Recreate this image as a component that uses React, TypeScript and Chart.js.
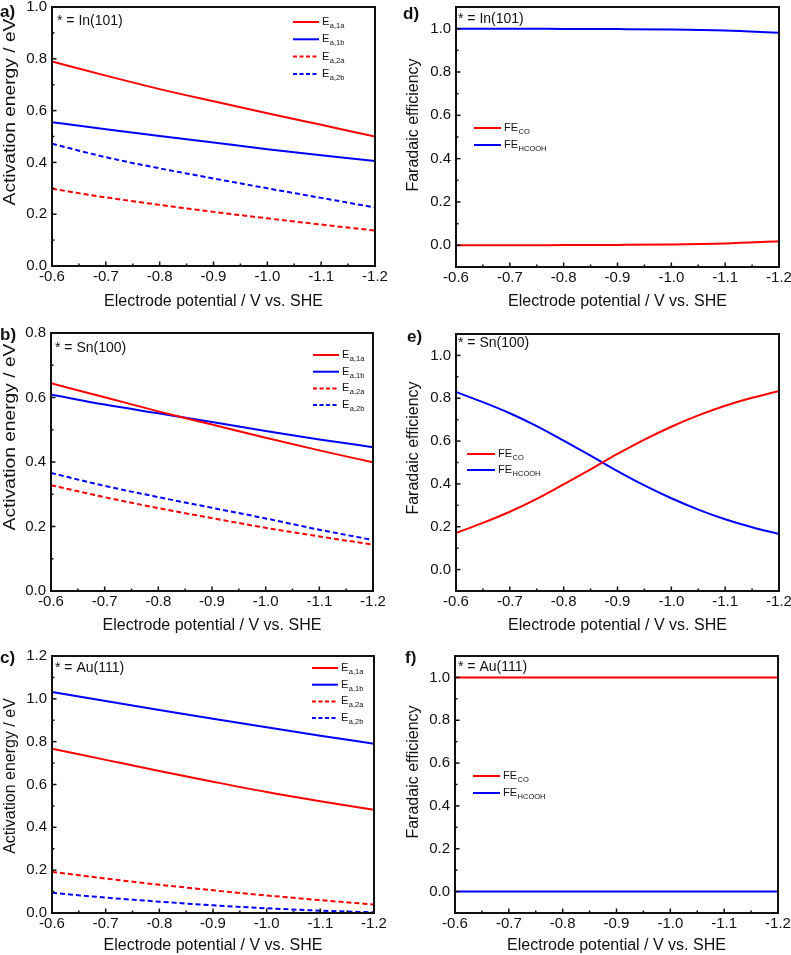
import React, { useEffect, useRef } from "react";
import { Chart, registerables } from "chart.js";

Chart.register(...registerables);

// ---------------- data ----------------
const potentials = [-0.6, -0.7, -0.8, -0.9, -1.0, -1.1, -1.2];
const potentialsFine = [-0.6, -0.65, -0.7, -0.75, -0.8, -0.85, -0.9, -0.95, -1.0, -1.05, -1.1, -1.15, -1.2];
const xTicks = [-0.6, -0.7, -0.8, -0.9, -1.0, -1.1, -1.2];
const eaTicksA = [0, 0.2, 0.4, 0.6, 0.8, 1.0];
const eaTicksB = [0, 0.2, 0.4, 0.6, 0.8];
const eaTicksC = [0, 0.2, 0.4, 0.6, 0.8, 1.0, 1.2];
const feTicks = [0, 0.2, 0.4, 0.6, 0.8, 1.0];

const eaSubs = ["a,1a", "a,1b", "a,2a", "a,2b"];
const feSubs = ["CO", "HCOOH"];

// a) In(101)
const inE1a = [0.790, 0.735, 0.683, 0.636, 0.590, 0.545, 0.500];
const inE1b = [0.555, 0.528, 0.502, 0.477, 0.451, 0.428, 0.405];
const inE2a = [0.298, 0.265, 0.236, 0.209, 0.184, 0.160, 0.137];
const inE2b = [0.472, 0.420, 0.377, 0.338, 0.300, 0.263, 0.226];
// b) Sn(100)
const snE1a = [0.644, 0.601, 0.557, 0.516, 0.475, 0.436, 0.399];
const snE1b = [0.609, 0.578, 0.551, 0.524, 0.496, 0.470, 0.446];
const snE2a = [0.328, 0.291, 0.257, 0.226, 0.196, 0.169, 0.144];
const snE2b = [0.366, 0.326, 0.291, 0.258, 0.225, 0.190, 0.158];
// c) Au(111)
const auE1a = [0.767, 0.715, 0.663, 0.613, 0.565, 0.522, 0.482];
const auE1b = [1.032, 0.990, 0.948, 0.907, 0.867, 0.828, 0.790];
const auE2a = [0.192, 0.161, 0.132, 0.106, 0.082, 0.060, 0.040];
const auE2b = [0.094, 0.072, 0.053, 0.036, 0.022, 0.011, 0.003];
// d) In(101) FE
const inFeCO = [0.000, 0.000, 0.001, 0.002, 0.004, 0.009, 0.019];
const inFeHCOOH = [1.000, 1.000, 0.999, 0.998, 0.996, 0.991, 0.981];
// e) Sn(100) FE
const snFeCO = [0.171, 0.218, 0.270, 0.330, 0.398, 0.468, 0.540, 0.607, 0.667, 0.720, 0.765, 0.802, 0.834];
const snFeHCOOH = [0.829, 0.782, 0.730, 0.670, 0.602, 0.532, 0.460, 0.393, 0.333, 0.280, 0.235, 0.198, 0.166];
// f) Au(111) FE
const auFeCO = [1, 1, 1, 1, 1, 1, 1];
const auFeHCOOH = [0, 0, 0, 0, 0, 0, 0];

// ---------------- styles ----------------
const RED = "#ff0000";
const BLUE = "#0000ff";
const INK = "#111111";
const FONT = "'Liberation Sans', Arial, Helvetica, sans-serif";
const X_TITLE = "Electrode potential / V vs. SHE";

type Series = { xs: number[]; ys: number[]; color: string; dashed: boolean; main: string; sub: string };
type Panel = {
  key: string;
  letter: string;
  note: string;
  canvas: { x: number; y: number; w: number; h: number };
  area: { l: number; t: number; r: number; b: number };
  xH: number;
  yMin: number;
  yMax: number;
  yTicks: number[];
  yTitle: string;
  yTitlePos: [number, number];
  yTitleStretch: number;
  letterPos: [number, number];
  notePos: [number, number];
  legend: { x: number; y: number; len: number; dy: number };
  series: Series[];
};

const eaSeries = (s1a: number[], s1b: number[], s2a: number[], s2b: number[]): Series[] => [
  { xs: potentials, ys: s1a, color: RED, dashed: false, main: "E", sub: eaSubs[0] },
  { xs: potentials, ys: s1b, color: BLUE, dashed: false, main: "E", sub: eaSubs[1] },
  { xs: potentials, ys: s2a, color: RED, dashed: true, main: "E", sub: eaSubs[2] },
  { xs: potentials, ys: s2b, color: BLUE, dashed: true, main: "E", sub: eaSubs[3] },
];
const feSeries = (xs: number[], co: number[], hc: number[]): Series[] => [
  { xs, ys: co, color: RED, dashed: false, main: "FE", sub: feSubs[0] },
  { xs, ys: hc, color: BLUE, dashed: false, main: "FE", sub: feSubs[1] },
];

const panels: Panel[] = [
  {
    key: "a", letter: "a)", note: "* = In(101)",
    canvas: { x: 0, y: -10, w: 395, h: 325 }, area: { l: 52, t: 7, r: 375, b: 266 }, xH: 45,
    yMin: 0, yMax: 1.0, yTicks: eaTicksA, yTitle: "Activation energy / eV", yTitlePos: [11, 112], yTitleStretch: 1.2,
    letterPos: [0, 12], notePos: [57, 21], legend: { x: 293, y: 22, len: 26, dy: 17.3 },
    series: eaSeries(inE1a, inE1b, inE2a, inE2b),
  },
  {
    key: "d", letter: "d)", note: "* = In(101)",
    canvas: { x: 395, y: -10, w: 420, h: 325 }, area: { l: 456, t: 7, r: 779, b: 267 }, xH: 44,
    yMin: -0.1, yMax: 1.1, yTicks: feTicks, yTitle: "Faradaic efficiency", yTitlePos: [414, 125], yTitleStretch: 1.0,
    letterPos: [403, 14], notePos: [458, 19], legend: { x: 474, y: 128, len: 27, dy: 17 },
    series: feSeries(potentials, inFeCO, inFeHCOOH),
  },
  {
    key: "b", letter: "b)", note: "* = Sn(100)",
    canvas: { x: 0, y: 300, w: 395, h: 335 }, area: { l: 51, t: 333, r: 373, b: 591 }, xH: 44,
    yMin: 0, yMax: 0.8, yTicks: eaTicksB, yTitle: "Activation energy / eV", yTitlePos: [11, 437], yTitleStretch: 1.2,
    letterPos: [0, 335], notePos: [55, 348], legend: { x: 313, y: 355, len: 26, dy: 16.7 },
    series: eaSeries(snE1a, snE1b, snE2a, snE2b),
  },
  {
    key: "e", letter: "e)", note: "* = Sn(100)",
    canvas: { x: 395, y: 300, w: 420, h: 335 }, area: { l: 456, t: 334, r: 779, b: 591 }, xH: 44,
    yMin: -0.1, yMax: 1.1, yTicks: feTicks, yTitle: "Faradaic efficiency", yTitlePos: [414, 448], yTitleStretch: 1.0,
    letterPos: [407, 337], notePos: [458, 343], legend: { x: 467, y: 454, len: 28, dy: 16 },
    series: feSeries(potentialsFine, snFeCO, snFeHCOOH),
  },
  {
    key: "c", letter: "c)", note: "* = Au(111)",
    canvas: { x: 0, y: 625, w: 395, h: 330 }, area: { l: 52, t: 656, r: 374, b: 913 }, xH: 42,
    yMin: 0, yMax: 1.2, yTicks: eaTicksC, yTitle: "Activation energy / eV", yTitlePos: [11, 776], yTitleStretch: 1.0,
    letterPos: [0, 658], notePos: [55, 668], legend: { x: 312, y: 668, len: 26, dy: 16.7 },
    series: eaSeries(auE1a, auE1b, auE2a, auE2b),
  },
  {
    key: "f", letter: "f)", note: "* = Au(111)",
    canvas: { x: 395, y: 625, w: 420, h: 330 }, area: { l: 455, t: 656, r: 778, b: 913 }, xH: 42,
    yMin: -0.1, yMax: 1.1, yTicks: feTicks, yTitle: "Faradaic efficiency", yTitlePos: [414, 772], yTitleStretch: 1.0,
    letterPos: [405, 658], notePos: [458, 667], legend: { x: 473, y: 776, len: 27, dy: 17 },
    series: feSeries(potentials, auFeCO, auFeHCOOH),
  },
];

const mids = (arr: number[]) => arr.slice(1).map((v, i) => (v + arr[i]) / 2);

function makeDecor(p: Panel) {
  const ox = p.canvas.x;
  const oy = p.canvas.y;
  return {
    id: "decor_" + p.key,
    afterDatasetsDraw(chart: any) {
      const ctx = chart.ctx as CanvasRenderingContext2D;
      const { left, right, top, bottom } = chart.chartArea;
      const xs = chart.scales.x;
      const ys = chart.scales.y;
      ctx.save();
      ctx.strokeStyle = INK;
      ctx.setLineDash([]);
      const tick = (x1: number, y1: number, x2: number, y2: number) => {
        ctx.beginPath();
        ctx.moveTo(x1, y1);
        ctx.lineTo(x2, y2);
        ctx.stroke();
      };
      ctx.lineWidth = 1.5;
      xTicks.forEach((v) => { const px = xs.getPixelForValue(v); tick(px, bottom, px, bottom - 4.5); });
      mids(xTicks).forEach((v) => { const px = xs.getPixelForValue(v); tick(px, bottom, px, bottom - 2.5); });
      p.yTicks.forEach((v) => { const py = ys.getPixelForValue(v); tick(left, py, left + 4.5, py); });
      mids(p.yTicks).forEach((v) => { const py = ys.getPixelForValue(v); tick(left, py, left + 2.5, py); });
      ctx.lineWidth = 2;
      ctx.strokeRect(left, top, right - left, bottom - top);
      ctx.restore();
    },
    afterDraw(chart: any) {
      const ctx = chart.ctx as CanvasRenderingContext2D;
      ctx.save();
      ctx.fillStyle = INK;
      ctx.font = `bold 17px ${FONT}`;
      ctx.textAlign = "left";
      ctx.textBaseline = "middle";
      ctx.fillText(p.letter, p.letterPos[0] - ox, p.letterPos[1] - oy);
      ctx.font = `14px ${FONT}`;
      ctx.fillText(p.note, p.notePos[0] - ox, p.notePos[1] - oy);
      ctx.save();
      ctx.translate(p.yTitlePos[0] - ox, p.yTitlePos[1] - oy);
      ctx.rotate(-Math.PI / 2);
      ctx.scale(p.yTitleStretch, 1);
      ctx.font = `16px ${FONT}`;
      ctx.textAlign = "center";
      ctx.textBaseline = "middle";
      ctx.fillText(p.yTitle, 0, 0);
      ctx.restore();
      p.series.forEach((s, i) => {
        const y = p.legend.y + i * p.legend.dy - oy;
        const x0 = p.legend.x - ox;
        ctx.save();
        ctx.strokeStyle = s.color;
        ctx.lineWidth = 2;
        ctx.setLineDash(s.dashed ? [4, 2.5] : []);
        ctx.beginPath();
        ctx.moveTo(x0, y);
        ctx.lineTo(x0 + p.legend.len, y);
        ctx.stroke();
        ctx.restore();
        const tx = x0 + p.legend.len + 3;
        ctx.font = `11px ${FONT}`;
        ctx.textAlign = "left";
        ctx.textBaseline = "middle";
        ctx.fillText(s.main, tx, y);
        const w = ctx.measureText(s.main).width;
        ctx.font = `7.5px ${FONT}`;
        ctx.fillText(s.sub, tx + w + 0.5, y + 4);
      });
      ctx.restore();
    },
  };
}

function PanelChart({ p }: { p: Panel }) {
  const ref = useRef<HTMLCanvasElement | null>(null);
  useEffect(() => {
    if (!ref.current) return;
    const c = p.canvas;
    const chart = new Chart(ref.current, {
      type: "line",
      data: {
        datasets: p.series.map((s) => ({
          label: s.main + "_" + s.sub,
          data: s.xs.map((x, i) => ({ x, y: s.ys[i] })),
          borderColor: s.color,
          backgroundColor: s.color,
          borderWidth: 2,
          borderDash: s.dashed ? [5, 3] : [],
          pointRadius: 0,
          fill: false,
          cubicInterpolationMode: "monotone",
        })),
      },
      options: {
        animation: false,
        responsive: false,
        maintainAspectRatio: false,
        events: [],
        layout: {
          padding: {
            left: 0,
            top: p.area.t - c.y,
            right: c.x + c.w - p.area.r,
            bottom: c.y + c.h - p.area.b - p.xH,
          },
        },
        plugins: {
          legend: { display: false },
          tooltip: { enabled: false },
          title: { display: false },
        },
        scales: {
          x: {
            type: "linear",
            min: -1.2,
            max: -0.6,
            reverse: true,
            afterBuildTicks: (s: any) => { s.ticks = xTicks.map((v) => ({ value: v })); },
            afterFit: (s: any) => { s.height = p.xH; },
            grid: { display: false, drawTicks: false },
            border: { display: false },
            ticks: {
              autoSkip: false,
              maxRotation: 0,
              padding: 2,
              color: INK,
              font: { family: FONT, size: 15 },
              callback: (v: any) => Number(v).toFixed(1),
            },
            title: {
              display: true,
              text: X_TITLE,
              color: INK,
              font: { family: FONT, size: 16 },
              padding: { top: 0, bottom: 0 },
            },
          },
          y: {
            type: "linear",
            min: p.yMin,
            max: p.yMax,
            afterBuildTicks: (s: any) => { s.ticks = p.yTicks.map((v) => ({ value: v })); },
            afterFit: (s: any) => { s.width = p.area.l - c.x; },
            grid: { display: false, drawTicks: false },
            border: { display: false },
            ticks: {
              padding: 5,
              color: INK,
              font: { family: FONT, size: 15 },
              callback: (v: any) => Number(v).toFixed(1),
            },
            title: { display: false },
          },
        },
      } as any,
      plugins: [makeDecor(p)],
    });
    return () => chart.destroy();
  }, [p]);
  const c = p.canvas;
  return (
    <canvas
      ref={ref}
      width={c.w}
      height={c.h}
      style={{ position: "absolute", left: c.x, top: c.y, width: c.w, height: c.h, display: "block" }}
    />
  );
}

export default function App() {
  return (
    <div
      style={{
        position: "absolute",
        left: 0,
        top: 0,
        width: 791,
        height: 955,
        overflow: "hidden",
        background: "#ffffff",
      }}
    >
      {panels.map((p) => (
        <PanelChart key={p.key} p={p} />
      ))}
    </div>
  );
}
